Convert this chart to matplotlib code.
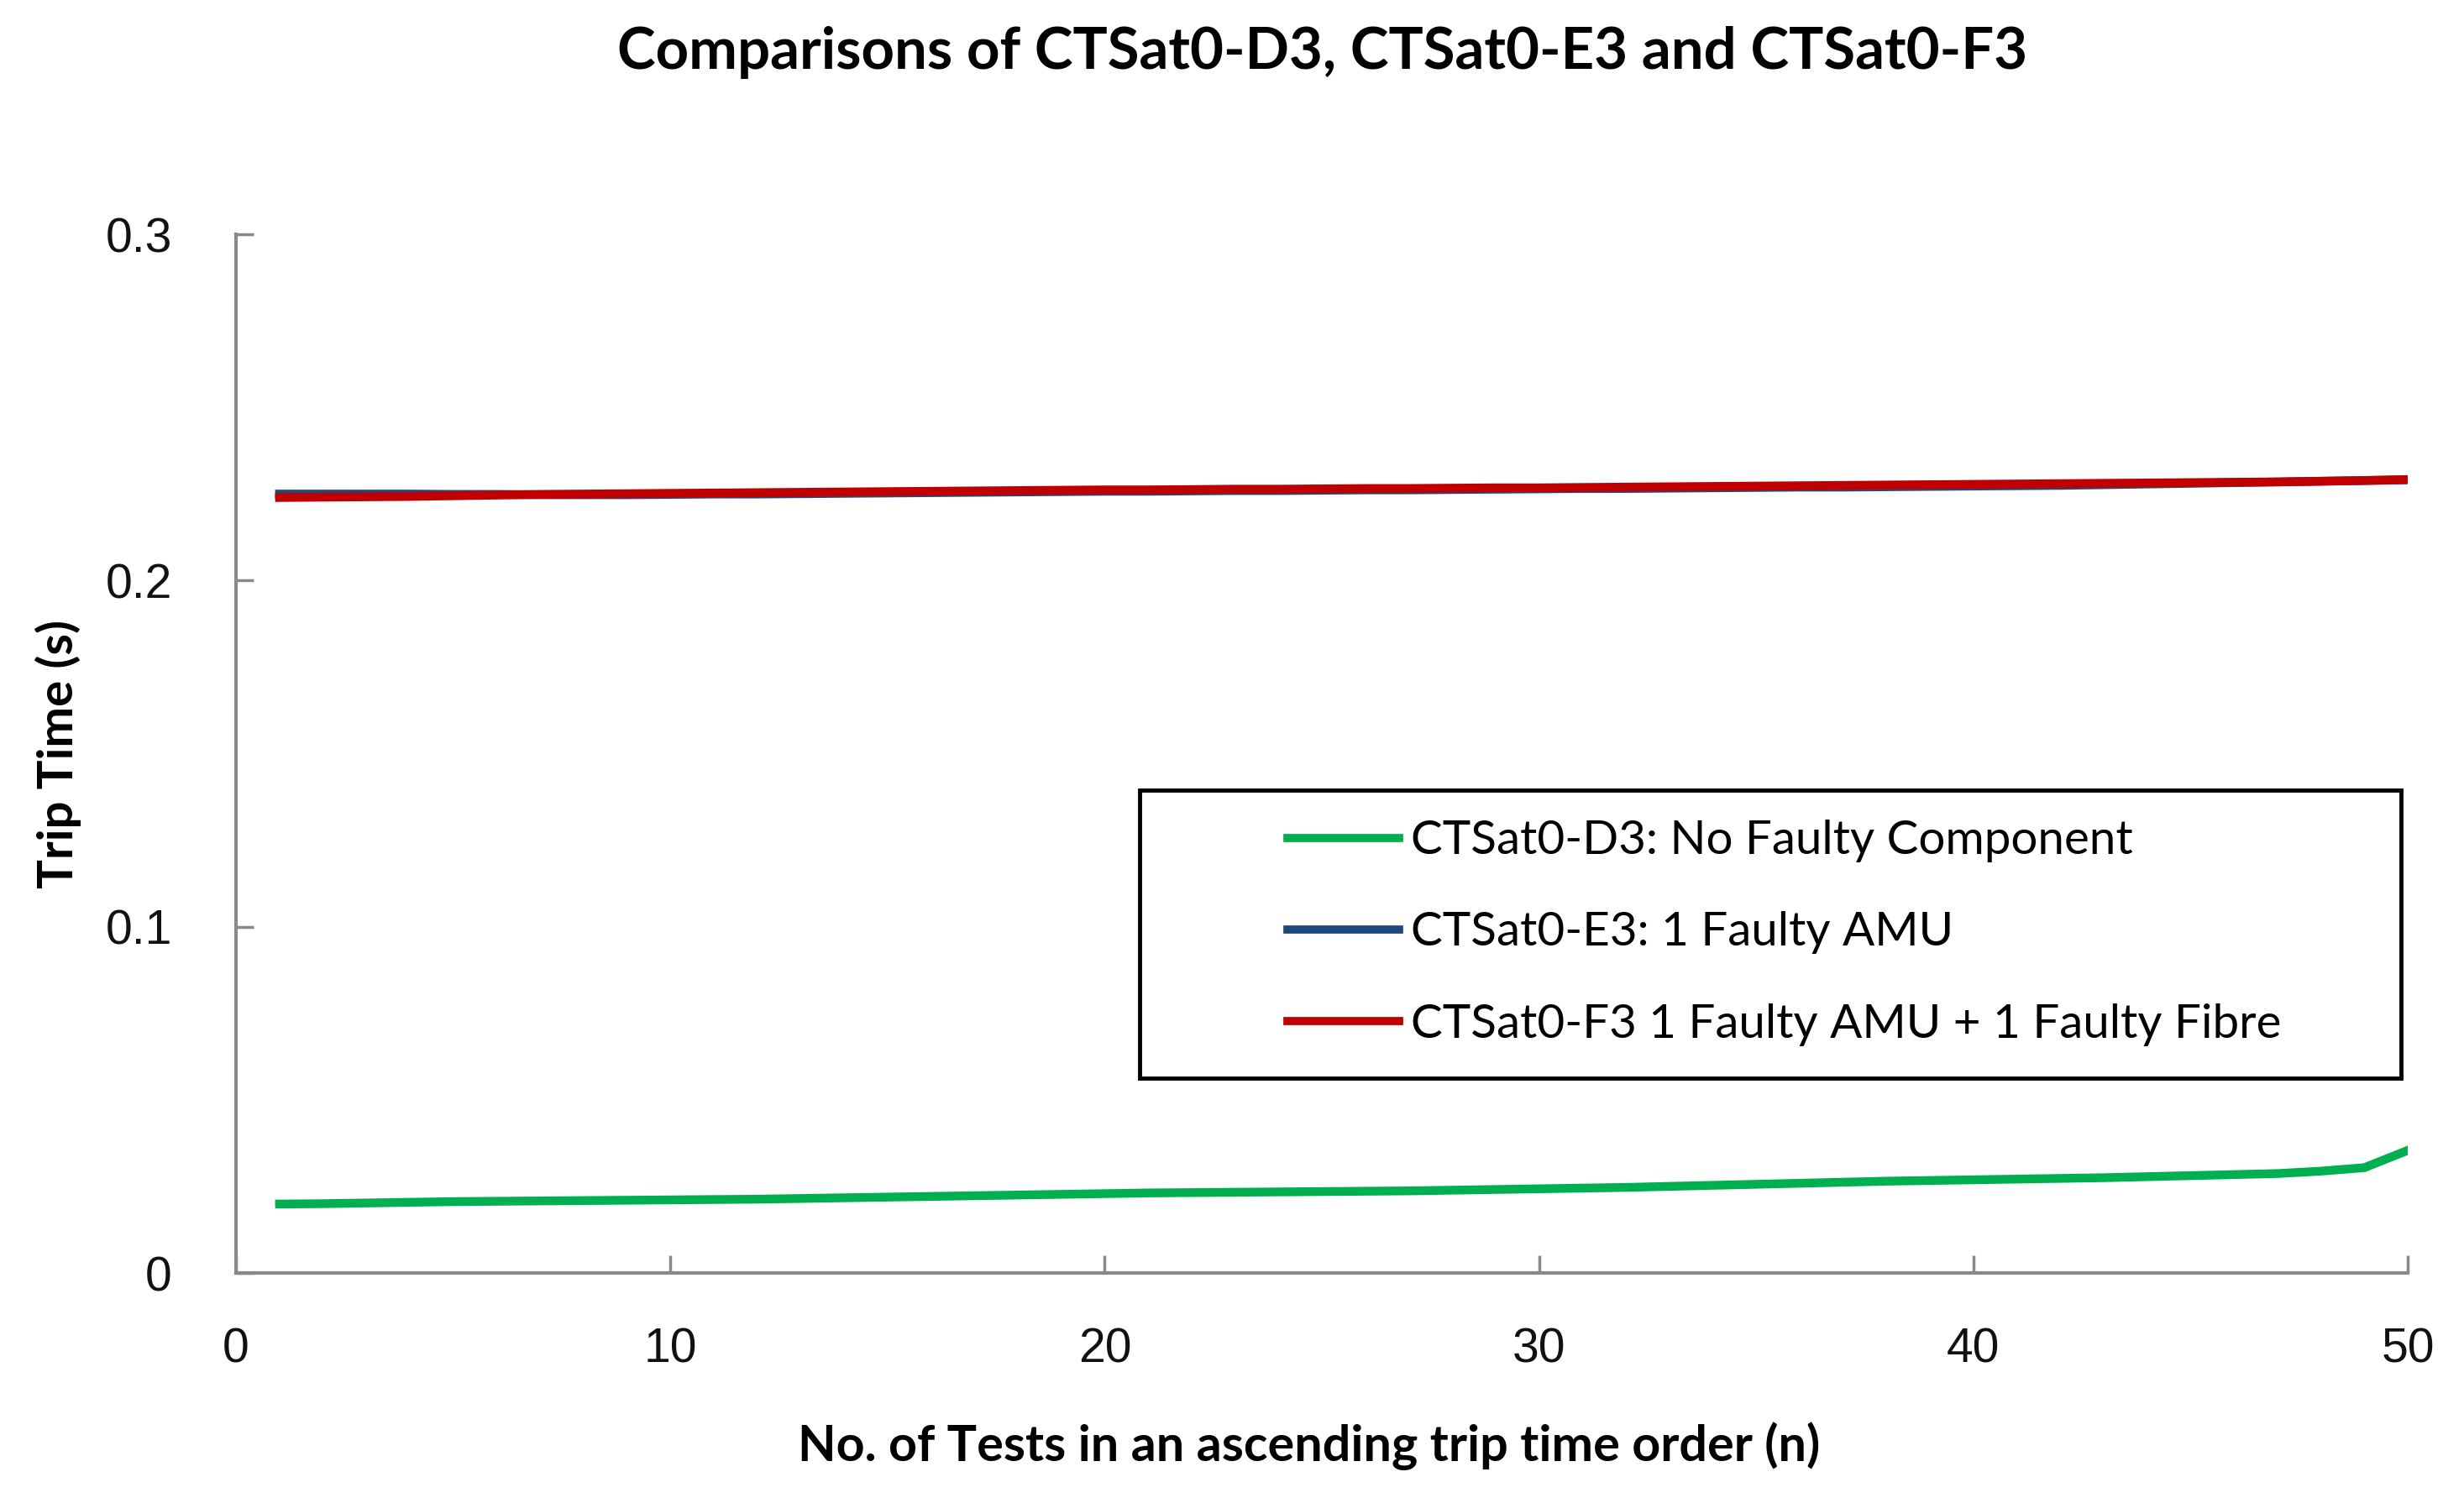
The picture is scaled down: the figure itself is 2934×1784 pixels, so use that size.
import matplotlib
matplotlib.use("Agg")
import matplotlib.pyplot as plt
from matplotlib.patches import Rectangle

# test number (ascending trip time order)
n_tests = list(range(1, 51))

# trip times (s)
d3_no_fault = [0.0200, 0.0201, 0.0203, 0.0205, 0.0207, 0.0208, 0.0209, 0.0210, 0.0211, 0.0212,
               0.0213, 0.0214, 0.0216, 0.0218, 0.0220, 0.0222, 0.0224, 0.0226, 0.0228, 0.0230,
               0.0232, 0.0233, 0.0234, 0.0235, 0.0236, 0.0237, 0.0238, 0.0240, 0.0242, 0.0244,
               0.0246, 0.0248, 0.0251, 0.0254, 0.0257, 0.0260, 0.0263, 0.0266, 0.0268, 0.0270,
               0.0272, 0.0274, 0.0276, 0.0279, 0.0282, 0.0285, 0.0288, 0.0295, 0.0305, 0.0355]

e3_amu = [0.2250, 0.2250, 0.2250, 0.2250, 0.2249, 0.2249, 0.2248, 0.2248, 0.2248, 0.2249,
          0.2250, 0.2250, 0.2251, 0.2252, 0.2253, 0.2254, 0.2255, 0.2256, 0.2257, 0.2258,
          0.2258, 0.2259, 0.2260, 0.2260, 0.2261, 0.2262, 0.2262, 0.2263, 0.2264, 0.2265,
          0.2266, 0.2266, 0.2267, 0.2268, 0.2269, 0.2270, 0.2270, 0.2271, 0.2272, 0.2273,
          0.2274, 0.2275, 0.2277, 0.2279, 0.2281, 0.2283, 0.2285, 0.2287, 0.2289, 0.2291]

f3_amu_fibre = [0.2240, 0.2241, 0.2242, 0.2243, 0.2245, 0.2247, 0.2249, 0.2250, 0.2251, 0.2252,
                0.2253, 0.2254, 0.2255, 0.2256, 0.2257, 0.2258, 0.2259, 0.2260, 0.2261, 0.2262,
                0.2262, 0.2263, 0.2264, 0.2264, 0.2265, 0.2266, 0.2266, 0.2267, 0.2268, 0.2268,
                0.2269, 0.2270, 0.2271, 0.2272, 0.2273, 0.2274, 0.2275, 0.2276, 0.2277, 0.2278,
                0.2279, 0.2280, 0.2281, 0.2282, 0.2283, 0.2284, 0.2285, 0.2287, 0.2289, 0.2292]

labels = ['CTSat0-D3: No Faulty Component',
          'CTSat0-E3: 1 Faulty AMU',
          'CTSat0-F3 1 Faulty AMU + 1 Faulty Fibre']
colors = ['#00B050', '#1F497D', '#C00000']

x_ticks = [0, 10, 20, 30, 40, 50]
y_ticks = [0, 0.1, 0.2, 0.3]
y_tick_labels = ['0', '0.1', '0.2', '0.3']

fam = ['Lato', 'DejaVu Sans']

fig = plt.figure(figsize=(29.34, 17.84), dpi=100)
ax = fig.add_axes([0.0958, 0.150, 0.8814, 0.6936])

lw = 7.5
ax.plot(n_tests, d3_no_fault, color=colors[0], lw=lw, label=labels[0])
ax.plot(n_tests, e3_amu, color=colors[1], lw=lw, label=labels[1])
ax.plot(n_tests, f3_amu_fibre, color=colors[2], lw=lw, label=labels[2])

ax.set_xlim(0, 50)
ax.set_ylim(0, 0.3)
ax.set_xticks(x_ticks)
ax.set_yticks(y_ticks)
ax.set_yticklabels(y_tick_labels)

for s in ['top', 'right']:
    ax.spines[s].set_visible(False)
for s in ['left', 'bottom']:
    ax.spines[s].set_color('#898989')
    ax.spines[s].set_linewidth(3)

ax.tick_params(axis='both', direction='in', length=15, width=2.5, color='#898989',
               labelsize=41, labelcolor='#111111')
ax.tick_params(axis='x', pad=46)
ax.tick_params(axis='y', pad=55)
for lab in ax.get_xticklabels() + ax.get_yticklabels():
    lab.set_fontfamily(['Liberation Sans', 'DejaVu Sans'])

ax.set_xlabel('No. of Tests in an ascending trip time order (n)', fontsize=42,
              fontweight='bold', family=fam, va='center')
ax.xaxis.set_label_coords(0.494, -0.1665)
ax.set_ylabel('Trip Time (s)', fontsize=42, fontweight='bold', family=fam, va='center')
ax.yaxis.set_label_coords(-0.082, 0.5)
title = fig.text(0.5365, 0.965, 'Comparisons of CTSat0-D3, CTSat0-E3 and CTSat0-F3',
                 fontsize=48, fontweight='bold', family=fam, ha='center', va='center')

leg = ax.legend(loc='center left', bbox_to_anchor=(1505 / 2934, 1 - 1111 / 1784),
                bbox_transform=fig.transFigure, frameon=False,
                prop={'family': fam, 'size': 40},
                handlelength=2.4, handletextpad=0.25, labelspacing=1.05, borderpad=0)
for h in leg.get_lines():
    h.set_linewidth(7)


def fit_size(txt, target_px, vertical=False):
    # scale font so the text spans the same length as in the picture
    r = fig.canvas.get_renderer()
    bb = txt.get_window_extent(r)
    length = bb.height if vertical else bb.width
    txt.set_fontsize(txt.get_fontsize() * target_px / length)


fig.canvas.draw()
fit_size(title, 1680)
fit_size(ax.xaxis.label, 1216)
fit_size(ax.yaxis.label, 320, vertical=True)
leg_texts = leg.get_texts()
r = fig.canvas.get_renderer()
scale = 859 / leg_texts[0].get_window_extent(r).width
for t in leg_texts:
    t.set_fontsize(t.get_fontsize() * scale)

# legend box
fig.patches.append(Rectangle((1357 / 2934, 1 - 1284 / 1784), 1502 / 2934, 343 / 1784,
                             transform=fig.transFigure, fill=False,
                             edgecolor='black', linewidth=3.5))

fig.savefig('out.png', dpi=100)
